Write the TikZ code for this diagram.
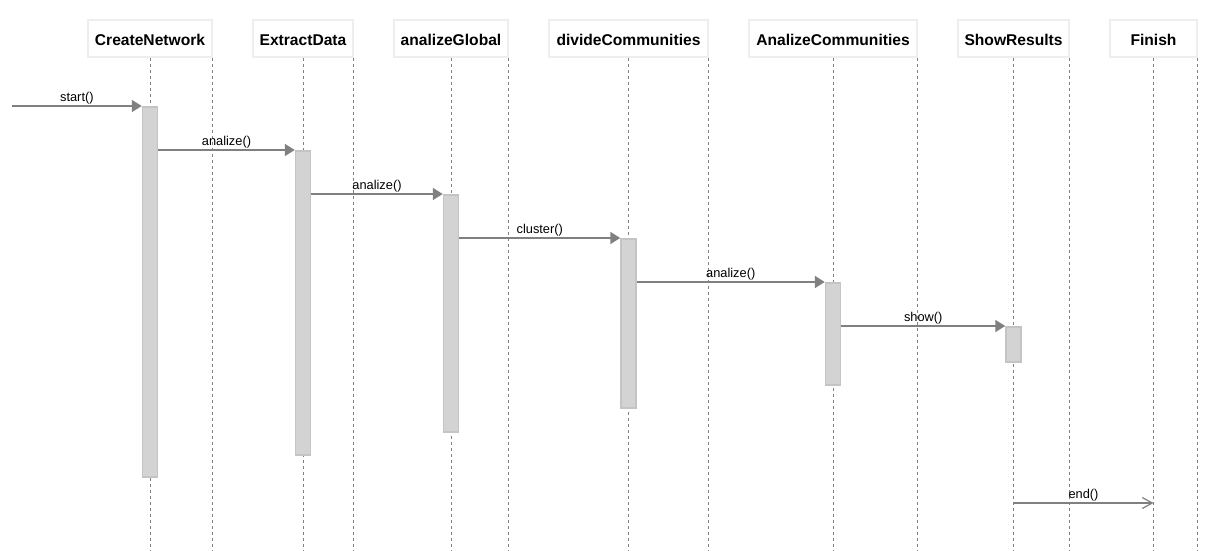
\documentclass[tikz,border=0pt]{standalone}
\usepackage{fontspec}
\setmainfont{Liberation Sans}
\usepackage{tikz}
\usetikzlibrary{arrows.meta}

\definecolor{linegray}{HTML}{808080}
\definecolor{barfill}{HTML}{D3D3D3}
\definecolor{barline}{HTML}{C4C4C4}
\definecolor{headline}{HTML}{EEEEEE}

\tikzset{
  header/.style = {draw = headline, line width = 1.5pt, fill = white, minimum height = 37pt, inner sep = 0pt, text height = 16pt, text depth = 3pt, font = \bfseries\fontsize{15.6}{18}\selectfont},
  lifeline/.style = {draw = linegray, line width = 0.8pt, dash pattern = on 3pt off 3pt},
  bar/.style = {draw = barline, fill = barfill, line width = 1.5pt, minimum width = 15pt, inner sep = 0pt, anchor = north},
  msg/.style = {draw = linegray, line width = 1.8pt, -{Triangle[length = 10pt, width = 12pt]}},
  reply/.style = {draw = linegray, line width = 1.6pt, -{Straight Barb[length = 10pt, width = 11pt, line width = 1.2pt]}},
  msglabel/.style = {above, inner sep = 1pt, font = \fontsize{12.8}{15}\selectfont}
}

\begin{document}
\begin{tikzpicture}[x = 1pt, y = -1pt]

\useasboundingbox[fill = white] (0, 0) rectangle (1218, 550);

% Heads and lifelines
  \foreach \name/\lbl/\xc/\w in {cn/CreateNetwork/150/124, ed/ExtractData/303/100, ag/analizeGlobal/451/114, dc/divideCommunities/628.5/159, ac/AnalizeCommunities/833/168, sr/ShowResults/1013.5/111, fi/Finish/1153.5/87} {
    \node[header, minimum width = \w pt] (\name) at (\xc, 38.5) {\lbl};
    \draw[lifeline] (\name.south) -- ++(0, 493);
    \draw[lifeline] (\name.south east) -- ++(0, 493);
}

  % Activations
  \foreach \name/\top/\h in {cn/106/370, ed/150/304, ag/194/237, dc/238/169, ac/282/102, sr/326/35} {
    \node[bar, minimum height = \h pt] (b\name) at (\name |- 0, \top) {};
}

  % Messages
  \coordinate (entry) at (12, 106);
  \draw[msg] (entry) -- node[msglabel] {start()} (bcn.north west);

  \foreach \from/\to/\lbl in {cn/ed/analize(), ed/ag/analize(), ag/dc/cluster(), dc/ac/analize(), ac/sr/show()} {
    \draw[msg] (b\from.east |- b\to.north) -- node[msglabel] {\lbl} (b\to.north west);
}

  \coordinate (srend) at (sr |- 0, 503);
  \coordinate (fiend) at (fi |- 0, 503);
  \draw[reply] (srend) -- node[msglabel] {end()} (fiend);

\end{tikzpicture}
\end{document}
